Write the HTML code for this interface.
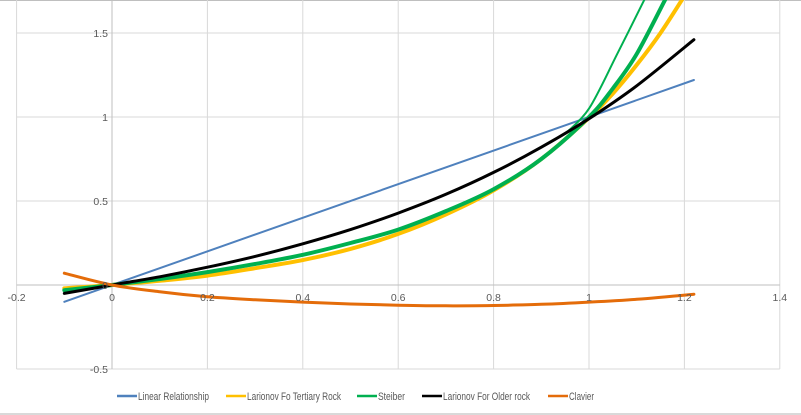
<!DOCTYPE html>
<html><head><meta charset="utf-8"><style>
html,body{margin:0;padding:0;background:#fff;}
svg{display:block;font-family:"Liberation Sans",sans-serif;}
</style></head><body>
<svg id="chart" width="801" height="415" xmlns="http://www.w3.org/2000/svg">
<rect x="0" y="0" width="801" height="415" fill="#fff"/>
<rect x="0" y="0" width="801" height="1" fill="#bfbfbf"/>
<rect x="0" y="413" width="801" height="2" fill="#d9d9d9"/>
<g id="grid"></g>
<g id="series"></g>
<g id="labels"></g>
<g id="legend"></g>
</svg>
<script>
const xTicks=[-0.2,0,0.2,0.4,0.6,0.8,1,1.2,1.4];
const yTicks=[-0.5,0,0.5,1,1.5];
const xLabels=["-0.2","0","0.2","0.4","0.6","0.8","1","1.2","1.4"];
const yLabels=["-0.5","0","0.5","1","1.5"];
const linearX=[-0.1,1.22];
const linearY=[-0.1,1.22];
const tertX=[-0.1,0,0.1,0.2,0.3,0.4,0.5,0.6,0.7,0.8,0.9,1.0,1.05,1.1,1.15,1.2];
const tertY=[-0.02,0,0.025,0.056,0.1,0.148,0.215,0.304,0.42,0.563,0.75,0.995,1.14,1.31,1.5,1.72];
const steibX=[-0.1,0,0.1,0.2,0.3,0.4,0.5,0.6,0.7,0.8,0.9,1.0,1.05,1.1,1.16];
const steibY=[-0.031,0,0.036,0.077,0.125,0.18,0.25,0.33,0.44,0.57,0.75,1.0,1.17,1.375,1.7];
const steib2X=[0.95,1.0,1.06,1.12];
const steib2Y=[0.9,1.05,1.38,1.72];
const olderX=[-0.1,0,0.1,0.2,0.3,0.4,0.5,0.6,0.7,0.8,0.9,1.0,1.1,1.22];
const olderY=[-0.05,0,0.049,0.106,0.17,0.245,0.33,0.428,0.54,0.67,0.82,0.99,1.186,1.46];
const clavX=[-0.1,0,0.1,0.2,0.3,0.4,0.5,0.6,0.7,0.8,0.9,1.0,1.1,1.22];
const clavY=[0.07,0,-0.04,-0.07,-0.088,-0.102,-0.113,-0.12,-0.124,-0.122,-0.115,-0.102,-0.085,-0.055];
const legendNames=["Linear Relationship","Larionov Fo Tertiary Rock","Steiber","Larionov For Older rock","Clavier"];
const NS="http://www.w3.org/2000/svg";
const sx=v=>112+v*477, sy=v=>285-v*168;
function mk(tag,attrs,parent){const e=document.createElementNS(NS,tag);for(const k in attrs)e.setAttribute(k,attrs[k]);parent.appendChild(e);return e;}
const grid=document.getElementById('grid');
xTicks.forEach(t=>{const l=mk('line',{x1:sx(t),x2:sx(t),y1:0,y2:sy(-0.5),stroke:'#d9d9d9','stroke-width':1},grid);

});
yTicks.forEach(t=>{const l=mk('line',{x1:sx(-0.2),x2:sx(1.4),y1:sy(t),y2:sy(t),stroke:'#d9d9d9','stroke-width':1},grid);

});
const ax=mk('line',{x1:sx(-0.2),x2:sx(1.4),y1:sy(0),y2:sy(0),stroke:'#bfbfbf','stroke-width':1},grid);


const ay=mk('line',{x1:sx(0),x2:sx(0),y1:0,y2:sy(-0.5),stroke:'#bfbfbf','stroke-width':1},grid);


const ser=document.getElementById('series');
function pathD(xs,ys){const P=xs.map((x,i)=>[sx(x),sy(ys[i])]);let d='M'+P[0][0].toFixed(1)+','+P[0][1].toFixed(1);
for(let i=0;i<P.length-1;i++){const p0=P[Math.max(0,i-1)],p1=P[i],p2=P[i+1],p3=P[Math.min(P.length-1,i+2)];
const c1=[p1[0]+(p2[0]-p0[0])/6,p1[1]+(p2[1]-p0[1])/6],c2=[p2[0]-(p3[0]-p1[0])/6,p2[1]-(p3[1]-p1[1])/6];
d+=' C'+c1.map(v=>v.toFixed(1)).join(',')+' '+c2.map(v=>v.toFixed(1)).join(',')+' '+p2.map(v=>v.toFixed(1)).join(',');}
return d;}
function line(xs,ys,color,w,name){
const p=mk('path',{d:pathD(xs,ys),fill:'none',stroke:color,'stroke-width':w,'stroke-linejoin':'round','stroke-linecap':'round'},ser);

}
line(linearX,linearY,'#4f81bd',2,'linear-relationship-line');
line(tertX,tertY,'#ffc000',4,'larionov-tertiary-line');
line(steib2X,steib2Y,'#00b050',2,'steiber-line-branch');
line(steibX,steibY,'#00b050',4,'steiber-line');
line(olderX,olderY,'#000000',3,'larionov-older-line');
line(clavX,clavY,'#e46c0a',3,'clavier-line');
const lab=document.getElementById('labels');
xTicks.forEach((t,i)=>{const e=mk('text',{x:sx(t),y:301,'text-anchor':'middle','font-size':10.5,fill:'#595959'},lab);e.textContent=xLabels[i];

});
yTicks.forEach((t,i)=>{const e=mk('text',{x:108,y:sy(t)+4,'text-anchor':'end','font-size':10.5,fill:'#595959'},lab);e.textContent=yLabels[i];

});
const leg=document.getElementById('legend');
const legColors=['#4f81bd','#ffc000','#00b050','#000000','#e46c0a'];
const legX=[117,226,357,422,548];
const legW=[71,94,27,87,25];
legendNames.forEach((n,i)=>{const g=mk('g',{},leg);


mk('line',{x1:legX[i],x2:legX[i]+20,y1:396,y2:396,stroke:legColors[i],'stroke-width':2.5},g);
const t=mk('text',{x:legX[i]+21,y:400,'font-size':11,fill:'#595959',textLength:legW[i],lengthAdjust:'spacingAndGlyphs'},g);t.textContent=n;});
</script>
</body></html>
